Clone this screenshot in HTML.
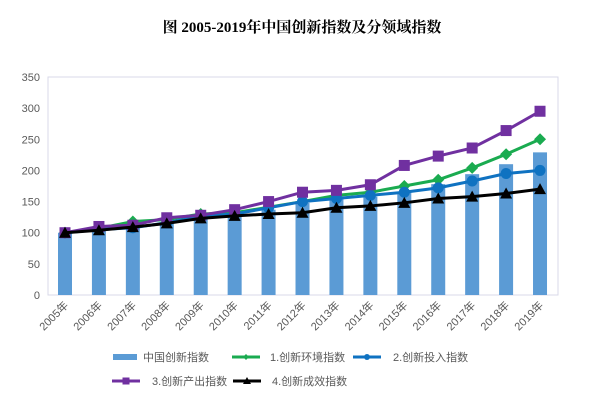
<!DOCTYPE html>
<html><head><meta charset="utf-8"><style>
body{margin:0;background:#fff;width:604px;height:409px;overflow:hidden;font-family:"Liberation Sans","Noto Sans CJK SC",sans-serif}
</style></head><body>
<svg width="604" height="409" id="c" xmlns="http://www.w3.org/2000/svg">
<text x="302" y="32" text-anchor="middle" font-size="15" font-weight="bold" fill="#000" font-family="Liberation Serif,Noto Serif CJK SC,serif">图 2005-2019年中国创新指数及分领域指数</text>
<rect x="48" y="77" width="510" height="218" fill="none" stroke="#d9d9e8"/>
<g id="g"></g>
</svg>
<script>
const years=["2005年","2006年","2007年","2008年","2009年","2010年","2011年","2012年","2013年","2014年","2015年","2016年","2017年","2018年","2019年"];
const yTicks=[0,50,100,150,200,250,300,350];
const china=[100,104,110,115,122,127,137,148,155,158,165,178,194,210,229];
const env=[100,107,118,121,130,132,141,150,160,165,175,185,204,226,250];
const inp=[100,105,108,116,126,130,140,150,155,160,165,172,183,195,200];
const outp=[100,110,112,124,128,137,150,165,168,177,208,223,236,264,295];
const eff=[100,104,109,115,123,127,130,132,140,143,148,155,158,163,170];
const NS="http://www.w3.org/2000/svg",g=document.getElementById('g');
const y=v=>295-v*(218/350), x=i=>65+i*33.93;
function el(t,a,p){const e=document.createElementNS(NS,t);for(const k in a)e.setAttribute(k,a[k]);(p||g).appendChild(e);return e;}
yTicks.forEach(v=>{const t=el('text',{x:40,y:y(v)+4,'text-anchor':'end','font-size':11,fill:'#595959'});t.textContent=v;

});
years.forEach((yr,i)=>{const t=el('text',{x:x(i)+4,y:306,'text-anchor':'end','font-size':11,fill:'#595959',transform:`rotate(-45 ${x(i)+4} 306)`});t.textContent=yr;

});
china.forEach((v,i)=>{const r=el('rect',{x:x(i)-7,y:y(v),width:14,height:295-y(v),fill:'#5b9bd5'});

});
function series(d,c,m,name){
 el('polyline',{points:d.map((v,i)=>x(i)+','+y(v)).join(' '),fill:'none',stroke:c,'stroke-width':3});
 d.forEach((v,i)=>{const cx=x(i),cy=y(v);let e;
  if(m=='d')e=el('polygon',{points:`${cx},${cy-6} ${cx+6},${cy} ${cx},${cy+6} ${cx-6},${cy}`,fill:c});
  else if(m=='c')e=el('circle',{cx,cy,r:5.5,fill:c});
  else if(m=='s')e=el('rect',{x:cx-5.5,y:cy-5.5,width:11,height:11,fill:c});
  else e=el('polygon',{points:`${cx},${cy-6} ${cx+6},${cy+5} ${cx-6},${cy+5}`,fill:c});
  
  });
}
series(env,'#1aab50','d','environment');
series(inp,'#0f72c1','c','input');
series(outp,'#7030a0','s','output');
series(eff,'#000','t','effect');
function leg(sx,sy,kind,c,txt,tx){
 if(kind=='bar')el('rect',{x:sx,y:sy-3,width:24,height:6,fill:c});
 else{el('line',{x1:sx,y1:sy,x2:sx+28,y2:sy,stroke:c,'stroke-width':3});
  const cx=sx+14;
  if(kind=='d')el('polygon',{points:`${cx},${sy-3} ${cx+3},${sy} ${cx},${sy+3} ${cx-3},${sy}`,fill:c});
  else if(kind=='c')el('circle',{cx,cy:sy,r:3,fill:c});
  else if(kind=='s')el('rect',{x:cx-3.5,y:sy-3.5,width:7,height:7,fill:c});
  else el('polygon',{points:`${cx},${sy-4} ${cx+4},${sy+3} ${cx-4},${sy+3}`,fill:c});}
 const t=el('text',{x:tx,y:sy+4,'font-size':11,fill:'#595959'});t.textContent=txt;
 
 
}
leg(113,357,'bar','#5b9bd5','中国创新指数',143);
leg(232,357,'d','#1aab50','1.创新环境指数',270);
leg(353,357,'c','#0f72c1','2.创新投入指数',393);
leg(112,381,'s','#7030a0','3.创新产出指数',152);
leg(233,381,'t','#000','4.创新成效指数',272);
</script>
</body></html>
